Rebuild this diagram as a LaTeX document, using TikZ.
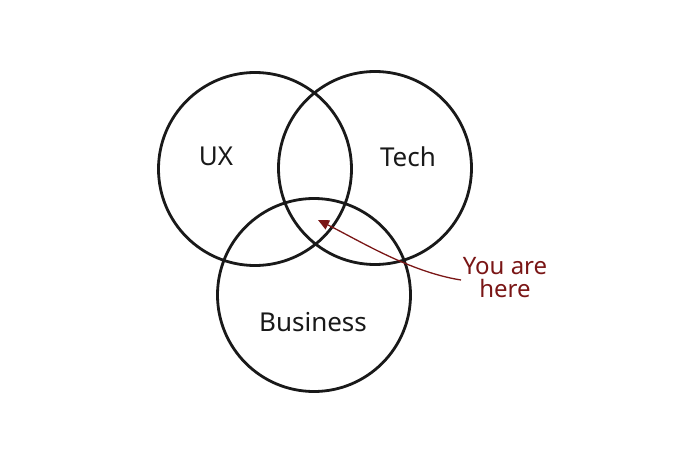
\documentclass[tikz,border=0pt]{standalone}
\usepackage{fontspec}
\setmainfont{Noto Sans}
\usetikzlibrary{arrows.meta}
\definecolor{hererd}{HTML}{7A1616}
\begin{document}
\begin{tikzpicture}[x=1pt,y=1pt,
  venn/.style={draw=black!90,line width=2.8pt,circle,minimum size=193pt,inner sep=0pt},
  lbl/.style={font=\fontsize{26}{28}\selectfont,text=black!90},
  herelbl/.style={font=\fontsize{24}{24}\selectfont,text=hererd,align=center},
  pointer/.style={draw=hererd,line width=1.3pt,-{Triangle[length=11pt,width=10pt]}}]
\useasboundingbox (0,0) rectangle (700,475);
\node[venn] (ux) at (255,306) {};
\node[venn] (tech) at (375,307) {};
\node[venn] (biz) at (314,180) {};
\node[lbl] (uxl) at (216,319) {UX};
\node[lbl] (techl) at (408,318) {Tech};
\node[lbl] (bizl) at (313,153) {Business};
\node[herelbl] (here) at (505,197) {You are\\[-1pt]here};
\coordinate (start) at (461,195);
\coordinate (tip) at (318,255);
\draw[pointer] (start) .. controls (410,203) and (360,234) .. (tip);
\end{tikzpicture}
\end{document}
